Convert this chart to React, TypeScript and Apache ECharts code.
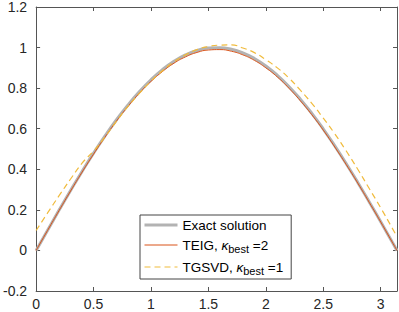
import React, { useEffect, useRef } from "react";
import * as echarts from "echarts";

const xs = [0, 0.1, 0.2, 0.3, 0.4, 0.5, 0.6, 0.7, 0.8, 0.9, 1.0, 1.1, 1.2, 1.3, 1.4, 1.5, 1.6, 1.7, 1.8, 1.9, 2.0, 2.1, 2.2, 2.3, 2.4, 2.5, 2.6, 2.7, 2.8, 2.9, 3.0, 3.1, 3.1416];
const exactVals = [0, 0.0998, 0.1987, 0.2955, 0.3894, 0.4794, 0.5646, 0.6442, 0.7174, 0.7833, 0.8415, 0.8912, 0.932, 0.9636, 0.9854, 0.9975, 0.9996, 0.9917, 0.9738, 0.9463, 0.9093, 0.8632, 0.8085, 0.7457, 0.6755, 0.5985, 0.5155, 0.4274, 0.335, 0.2392, 0.1411, 0.0416, 0];
const teigVals = [0, 0.099, 0.197, 0.293, 0.386, 0.475, 0.559, 0.638, 0.71, 0.776, 0.833, 0.882, 0.923, 0.954, 0.976, 0.988, 0.99, 0.982, 0.964, 0.937, 0.9, 0.855, 0.8, 0.738, 0.669, 0.593, 0.51, 0.423, 0.332, 0.237, 0.14, 0.041, 0];
const tgsvdVals = [0.098, 0.185, 0.27, 0.352, 0.43, 0.49, 0.56, 0.637, 0.71, 0.775, 0.835, 0.886, 0.93, 0.964, 0.99, 1.005, 1.012, 1.013, 0.998, 0.975, 0.94, 0.9, 0.85, 0.79, 0.725, 0.652, 0.575, 0.49, 0.4, 0.305, 0.21, 0.11, 0.067];

const seriesNames = ["Exact solution", "TEIG", "TGSVD"];
const kappaBest: Record<string, number> = { TEIG: 2, TGSVD: 1 };

const xTicks = ["0", "0.5", "1", "1.5", "2", "2.5", "3"];
const yTicks = ["-0.2", "0", "0.2", "0.4", "0.6", "0.8", "1", "1.2"];

const FONT = "Liberation Sans, Arial, Helvetica, sans-serif";
const AX = "#555555";
const TXT = "#262626";

function pairs(vals: number[]) {
  return xs.map((x, i) => [x, vals[i]]);
}

export default function App() {
  const ref = useRef<HTMLDivElement>(null);
  useEffect(() => {
    if (!ref.current) return;
    const chart = echarts.init(ref.current, undefined, { renderer: "svg" });
    const axisCommon = {
      axisLine: { show: true, onZero: false, lineStyle: { color: AX, width: 1 } },
      axisTick: { show: true, inside: true, length: 4, lineStyle: { color: AX, width: 1 } },
      splitLine: { show: false },
    };
    const xFmt = (v: number) => {
      const s = String(Math.round(v * 10) / 10);
      return xTicks.includes(s) ? s : "";
    };
    const yFmt = (v: number) => {
      const s = String(Math.round(v * 10) / 10);
      return yTicks.includes(s) ? s : "";
    };
    chart.setOption({
      animation: false,
      backgroundColor: "#ffffff",
      grid: { left: 36, right: 2, top: 6, bottom: 21, containLabel: false },
      xAxis: [
        {
          type: "value", min: 0, max: Math.PI, interval: 0.5, position: "bottom",
          ...axisCommon,
          axisLabel: { show: true, showMaxLabel: false, margin: 6, fontSize: 14, color: TXT, fontFamily: FONT, formatter: xFmt },
        },
        {
          type: "value", min: 0, max: Math.PI, interval: 0.5, position: "top",
          ...axisCommon,
          axisLabel: { show: false },
        },
      ],
      yAxis: [
        {
          type: "value", min: -0.2, max: 1.2, interval: 0.2, position: "left",
          ...axisCommon,
          axisLabel: { show: true, margin: 9, fontSize: 14, color: TXT, fontFamily: FONT, formatter: yFmt },
        },
        {
          type: "value", min: -0.2, max: 1.2, interval: 0.2, position: "right",
          ...axisCommon,
          axisLabel: { show: false },
        },
      ],
      legend: {
        orient: "vertical",
        left: 140,
        top: 215,
        itemWidth: 33,
        itemHeight: 14,
        itemGap: 3,
        padding: [3, 8, 3, 3],
        borderColor: "#444",
        borderWidth: 1,
        backgroundColor: "#fff",
        itemStyle: { opacity: 0 },
        lineStyle: { width: "inherit" },
        data: seriesNames,
        formatter: (name: string) =>
          name in kappaBest
            ? `{t|${name}, }{k|κ}{s|best}{t| =${kappaBest[name]}}`
            : `{t|${name}}`,
        textStyle: {
          fontFamily: FONT,
          color: "#000",
          rich: {
            t: { fontSize: 13.5, fontFamily: FONT, color: "#000", lineHeight: 18, verticalAlign: "middle" },
            k: { fontSize: 13.5, fontFamily: FONT, fontStyle: "italic", color: "#000", lineHeight: 18, verticalAlign: "middle" },
            s: { fontSize: 11, fontFamily: FONT, color: "#000", lineHeight: 12, verticalAlign: "bottom", padding: [8, 0, 0, 0] },
          },
        },
      },
      series: [
        {
          name: "Exact solution", type: "line", data: pairs(exactVals), smooth: true,
          symbol: "none", showSymbol: false, xAxisIndex: 0, yAxisIndex: 0,
          lineStyle: { color: "#b3b3b3", width: 3 }, itemStyle: { color: "#b3b3b3" },
        },
        {
          name: "TEIG", type: "line", data: pairs(teigVals), smooth: true,
          symbol: "none", showSymbol: false, xAxisIndex: 0, yAxisIndex: 0,
          lineStyle: { color: "#d95319", width: 1 }, itemStyle: { color: "#d95319" },
        },
        {
          name: "TGSVD", type: "line", data: pairs(tgsvdVals), smooth: true,
          symbol: "none", showSymbol: false, xAxisIndex: 0, yAxisIndex: 0,
          lineStyle: { color: "#f0bb3c", width: 1.2, type: [6, 4] }, itemStyle: { color: "#f0bb3c" },
        },
      ],
    });
    return () => chart.dispose();
  }, []);
  return (
    <div
      ref={ref}
      style={{ position: "fixed", left: 0, top: 0, width: 399, height: 312, background: "#fff" }}
    />
  );
}
